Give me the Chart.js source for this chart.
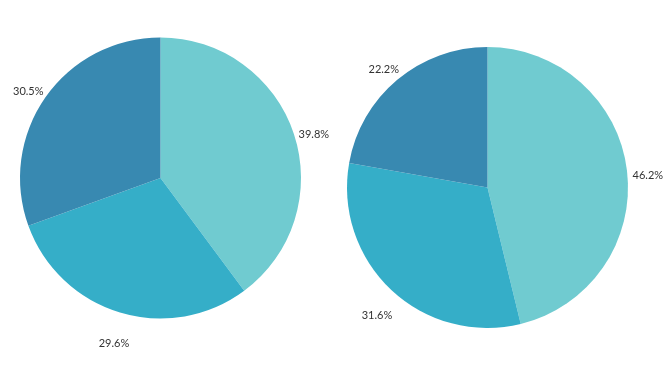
<!DOCTYPE html>
<html>
<head>
<meta charset="utf-8">
<script src="https://cdn.jsdelivr.net/npm/chart.js@4/dist/chart.umd.min.js"></script>
<style>
    body { margin: 0; background: #ffffff; }
    .wrap { position: absolute; top: 0; width: 333px; height: 375px; }
</style>
</head>
<body>
<div class="wrap" style="left:0"><canvas id="pieLeft"></canvas></div>
<div class="wrap" style="left:333px"><canvas id="pieRight"></canvas></div>
<script>
const categories = ["A", "B", "C"];
const leftValues = [39.8, 29.6, 30.5];
const rightValues = [46.2, 31.6, 22.2];
const sliceColors = ["#70cbd0", "#35aec8", "#3889b1"];

// percentage labels drawn just outside each slice
const outsideLabels = {
    id: "outsideLabels",
    afterDatasetsDraw(chart) {
        const ctx = chart.ctx;
        const values = chart.data.datasets[0].data;
        ctx.save();
        ctx.font = "11px Lato";
        ctx.fillStyle = "#333333";
        ctx.textAlign = "center";
        ctx.textBaseline = "middle";
        chart.getDatasetMeta(0).data.forEach((arc, i) => {
            const p = arc.getProps(["x", "y", "startAngle", "endAngle", "outerRadius"], true);
            const mid = (p.startAngle + p.endAngle) / 2;
            const d = p.outerRadius + 21;
            const x = p.x + Math.cos(mid) * d;
            const y = p.y + Math.sin(mid) * d + 8 + 3 * Math.sin(mid);
            ctx.fillText(values[i].toFixed(1) + "%", x, y);
        });
        ctx.restore();
    }
};

function createPie(id, values, padding) {
    new Chart(document.getElementById(id), {
        type: "pie",
        data: {
            labels: categories,
            datasets: [{
                data: values,
                backgroundColor: sliceColors,
                borderWidth: 0,
                hoverOffset: 0,
                offset: 0
            }]
        },
        options: {
            responsive: true,
            maintainAspectRatio: false,
            animation: false,
            layout: { padding: padding },
            plugins: {
                legend: { display: false },
                tooltip: { enabled: false }
            }
        },
        plugins: [outsideLabels]
    });
}

createPie("pieLeft", leftValues, { left: 20, right: 32, top: 37.5, bottom: 56.5 });
createPie("pieRight", rightValues, { left: 14, right: 38, top: 47, bottom: 47 });
</script>
</body>
</html>
